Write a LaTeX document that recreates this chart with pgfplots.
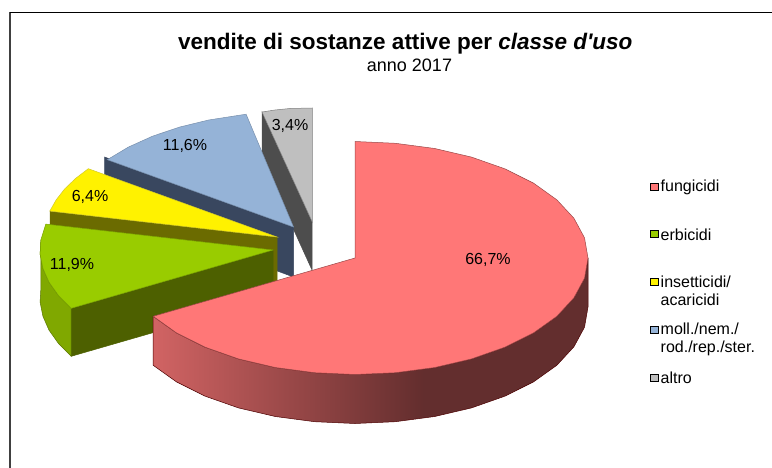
\documentclass[border=0pt]{standalone}
\usepackage{fontspec}
\setmainfont{Liberation Sans}
\usepackage{pgfplots}
\pgfplotsset{compat=1.18}

\definecolor{redtop}{HTML}{FF7777}
\definecolor{greentop}{HTML}{99CC00}
\definecolor{greenside}{HTML}{80A800}
\definecolor{greencut}{HTML}{4D6000}
\definecolor{yellowcut}{HTML}{6B6B00}
\definecolor{bluetop}{HTML}{95B3D7}
\definecolor{bluecut}{HTML}{39475F}
\definecolor{greytop}{HTML}{BFBFBF}
\definecolor{greycut}{HTML}{4D4D4D}
\pgfdeclarehorizontalshading{redside}{100bp}{
  rgb(0bp)=(0.82,0.39,0.39);
  rgb(25bp)=(0.82,0.39,0.39);
  rgb(56bp)=(0.39,0.18,0.18);
  rgb(100bp)=(0.39,0.18,0.18)}
\tikzset{
    lab/.style={font=\fontsize{16}{16}\selectfont, inner sep=0pt},
    leg/.style={font=\fontsize{16}{18}\selectfont, inner sep=0pt, anchor=west, align=left},
}

\begin{document}
\begin{tikzpicture}
\begin{axis}[
    scale only axis,
    width=772pt, height=468pt,
    xmin=0, xmax=772, ymin=0, ymax=468,
    y dir=reverse,
    axis lines=none,
    clip=true,
    every axis plot/.append style={line width=0.5pt},
]
\path[use as bounding box] (axis cs:0,0) rectangle (axis cs:772,468);
% frame
\addplot[black!75, line width=1.2pt] coordinates {(10,468) (10,12.5)};
\addplot[black, line width=1pt] coordinates {(10,12.5) (772,12.5)};

% altro
\addplot[draw=greycut, fill=greycut] coordinates {(262,112) (312,222) (312,270) (262,160)} -- cycle;
\addplot[draw=gray, fill=greytop] coordinates {(262,112) (275,110) (290,108.5) (312.3,108) (312.3,222)} -- cycle;

% moll./nem./rod./rep./ster.
\addplot[draw=bluecut, fill=bluecut] coordinates {(104.5,157) (293.5,227) (293.5,277) (104.5,207)} -- cycle;
\addplot[draw=bluetop!80!black, fill=bluetop] coordinates {(107.3,159.7) (128.4,147.1) (152.5,136.2) (179.5,127.1) (208.7,120) (246.1,114.2) (293.5,227)} -- cycle;

% insetticidi/acaricidi
\addplot[draw=yellowcut, fill=yellowcut] coordinates {(50,211) (277,237) (277,285) (50,259)} -- cycle;
\addplot[draw=yellow!80!black, fill=yellow] coordinates {(49.8,211.1) (56.2,199.8) (64.7,188.9) (75.5,178.5) (88.3,168.7) (277,237)} -- cycle;

% erbicidi
\addplot[draw=greencut, fill=greencut] coordinates {(71.2,308.3) (273,250) (273,298) (71.2,356.3)} -- cycle;
\addplot[draw=greenside!70!black, fill=greenside] coordinates {(71.2,308.3) (58.5,295.5) (49,282.1) (42.9,268.2) (40.1,254.1) (40.9,239.8) (40.9,288) (40.1,302.1) (42.9,316.2) (49,330.1) (58.5,343.5) (71.2,356.3)} -- cycle;
\addplot[draw=greentop!80!black, fill=greentop] coordinates {(273,250) (71.2,308.3) (58.5,295.5) (49,282.1) (42.9,268.2) (40.1,254.1) (40.9,239.8) (45.8,224.1)} -- cycle;

% fungicidi
\addplot[draw=black!70!red, shading=redside] coordinates {(588,258) (584.5,278.2) (573.9,297.8) (556.8,316.3) (533.5,332.9) (504.8,347.2) (471.5,358.9) (434.7,367.5) (395.4,372.7) (355,374.5) (314.6,372.7) (275.3,367.5) (238.5,358.9) (205.2,347.2) (176.5,332.9) (153.2,316.3) (153.2,365.3) (176.5,381.9) (205.2,396.2) (238.5,407.9) (275.3,416.5) (314.6,421.7) (355,423.5) (395.4,421.7) (434.7,416.5) (471.5,407.9) (504.8,396.2) (533.5,381.9) (556.8,365.3) (573.9,346.8) (584.5,327.2) (588,307)} -- cycle;
\addplot[draw=redtop!60!black, fill=redtop] coordinates {(355,141.5) (395.4,143.3) (434.7,148.5) (471.5,157.1) (504.8,168.8) (533.5,183.1) (556.8,199.8) (573.9,218.2) (584.5,237.8) (588,258) (584.5,278.2) (573.9,297.8) (556.8,316.3) (533.5,332.9) (504.8,347.2) (471.5,358.9) (434.7,367.5) (395.4,372.7) (355,374.5) (314.6,372.7) (275.3,367.5) (238.5,358.9) (205.2,347.2) (176.5,332.9) (153.2,316.3) (355,258)} -- cycle;

% legend swatches
\addplot[draw=black, line width=1pt, fill=redtop] coordinates {(650,183.5) (658.5,183.5) (658.5,190.5) (650,190.5)} -- cycle;
\addplot[draw=black, line width=1pt, fill=greentop] coordinates {(650,230.5) (658.5,230.5) (658.5,238) (650,238)} -- cycle;
\addplot[draw=black, line width=1pt, fill=yellow] coordinates {(650,278) (658.5,278) (658.5,285) (650,285)} -- cycle;
\addplot[draw=black, line width=1pt, fill=bluetop] coordinates {(650,326) (658.5,326) (658.5,333.5) (650,333.5)} -- cycle;
\addplot[draw=black, line width=1pt, fill=greytop] coordinates {(650,374) (658.5,374) (658.5,381) (650,381)} -- cycle;

\node[leg] at (axis cs:660.5,187) {fungicidi};
\node[leg] at (axis cs:660.5,235) {erbicidi};
\node[leg, anchor=north west] at (axis cs:660.5,276) {insetticidi/\\acaricidi};
\node[leg, anchor=north west] at (axis cs:660.5,323) {moll./nem./\\rod./rep./ster.};
\node[leg] at (axis cs:660.5,378) {altro};

% percentages
\node[lab] at (axis cs:488,260) {66,7\%};
\node[lab] at (axis cs:72,265) {11,9\%};
\node[lab] at (axis cs:90,197) {6,4\%};
\node[lab] at (axis cs:185,146) {11,6\%};
\node[lab] at (axis cs:290,126) {3,4\%};

% title
\node[font=\bfseries\fontsize{22.5}{22.5}\selectfont, inner sep=0pt, anchor=base west] at (axis cs:178,50) {vendite di sostanze attive per \textit{classe d\textquotesingle uso}};
\node[font=\fontsize{18}{18}\selectfont, inner sep=0pt, anchor=base] at (axis cs:409.5,72) {anno 2017};
\end{axis}
\end{tikzpicture}
\end{document}
